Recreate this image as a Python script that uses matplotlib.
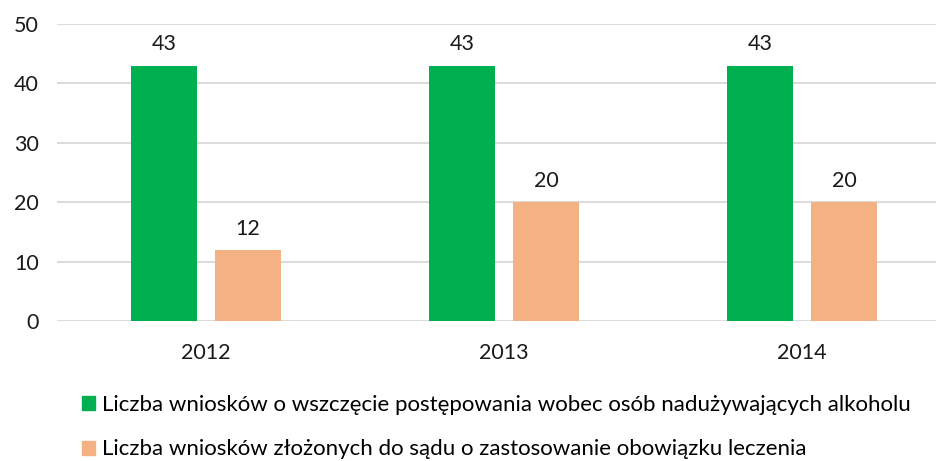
import matplotlib
matplotlib.use("Agg")
from matplotlib import pyplot as plt
from matplotlib.patches import Patch
import numpy as np

years = ["2012", "2013", "2014"]
wnioski_wszczecie = [43, 43, 43]
wnioski_sad = [12, 20, 20]
labels = [
    "Liczba wniosków o wszczęcie postępowania wobec osób nadużywających alkoholu",
    "Liczba wniosków złożonych do sądu o zastosowanie obowiązku leczenia",
]
green = "#00B050"
orange = "#F4B183"

plt.rcParams["font.family"] = ["Lato", "DejaVu Sans"]

fig = plt.figure(figsize=(9.36, 4.61), dpi=100)
ax = fig.add_axes([57 / 936, 1 - 321 / 461, 894 / 936, 297 / 461])

x = np.arange(len(years))
w = 0.2215
off = 0.141
b1 = ax.bar(x - off, wnioski_wszczecie, w, color=green)
b2 = ax.bar(x + off, wnioski_sad, w, color=orange)

for bars in (b1, b2):
    for rect in bars:
        ax.annotate(str(int(rect.get_height())),
                    (rect.get_x() + rect.get_width() / 2, rect.get_height()),
                    xytext=(0, 8), textcoords="offset points",
                    ha="center", va="bottom", fontsize=15.5, color="#1a1a1a")

ax.set_xlim(-0.5, 2.5)
ax.set_ylim(0, 50)
ax.set_yticks(range(0, 51, 10))
ax.set_xticks(x)
ax.set_xticklabels(years)
ax.yaxis.grid(True, color="#D9D9D9", linewidth=1.3)
ax.set_axisbelow(True)
for s in ax.spines.values():
    s.set_visible(False)
ax.tick_params(axis="y", length=0, pad=13, labelsize=15.5, labelcolor="#1a1a1a")
ax.tick_params(axis="x", length=0, pad=16, labelsize=15.5, labelcolor="#1a1a1a")

handles = [Patch(color=green), Patch(color=orange)]
fig.legend(handles, labels, loc="upper left", bbox_to_anchor=(82 / 936, 1 - 395 / 461),
           frameon=False, fontsize=16, handlelength=0.6, handleheight=0.6,
           handletextpad=0.3, labelspacing=1.1, borderaxespad=0, borderpad=0)

fig.savefig("out.png", dpi=100)
